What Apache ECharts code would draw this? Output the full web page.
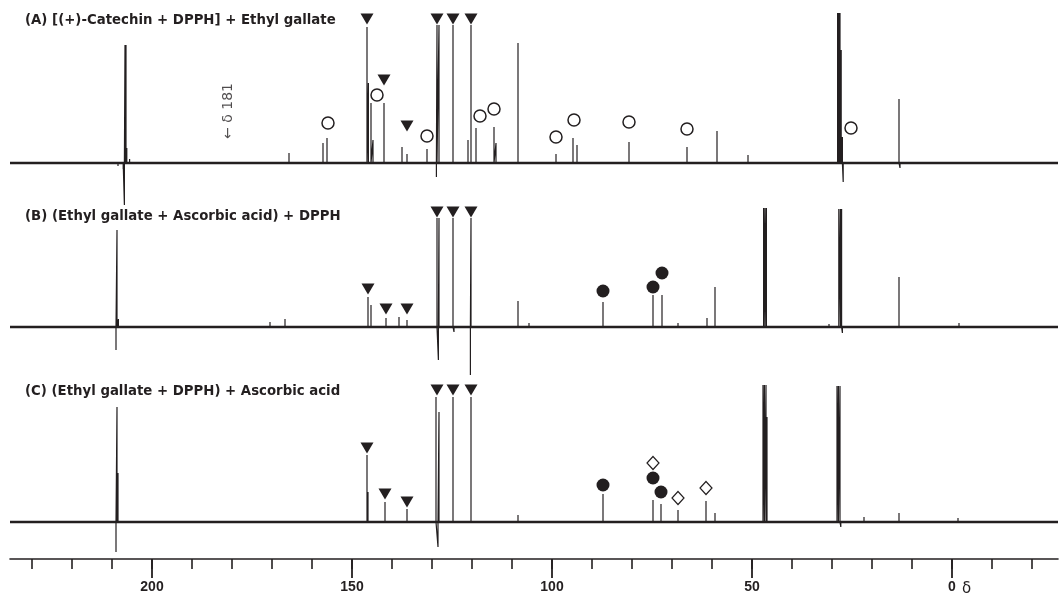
<!DOCTYPE html>
<html>
<head>
<meta charset="utf-8">
<script src="https://cdn.jsdelivr.net/npm/echarts@6/dist/echarts.min.js"></script>
<style>
  html, body { margin: 0; padding: 0; background: #fff; }
  #main { width: 1060px; height: 594px; }
</style>
</head>
<body>
<div id="main"></div>
<script>
// 13C NMR spectra, peaks as [ppm, intensity]; intensity
const peaksA = [
  [208.5, -3], [207.2, -6], [206.9, -42], [206.75, 118], [206.5, 118], [206.3, 15], [205.6, 4],
  [165.75, 10], [157.25, 20], [156.25, 25],
  [146.25, 136], [145.9, 80], [145.25, 60], [144.75, 23],
  [142, 60], [137.5, 16], [136.25, 9], [131.25, 14],
  [128.9, -14], [128.75, 138], [128.25, 138], [124.75, 138],
  [121, 23], [120.25, 138], [119, 35], [114.5, 36], [114, 20],
  [108.5, 120], [99, 9], [94.75, 25], [93.75, 18], [80.75, 21],
  [66.25, 16], [58.75, 32], [51, 8],
  [28.6, 150], [28.3, 150], [28.0, 150], [27.7, 113], [27.4, 26], [27.2, -19],
  [13.25, 64], [13.0, -5]
]
const peaksB = [
  [209.0, -23], [208.75, 97], [208.4, 8],
  [170.5, 5], [166.75, 8],
  [146, 30], [145.25, 22], [141.5, 9], [138.25, 10], [136.25, 7],
  [128.75, 109], [128.4, -33], [128.25, 109], [124.75, 109], [124.5, -5],
  [120.4, -48], [120.25, 109], [108.5, 26], [105.75, 4],
  [87.25, 25], [74.75, 32], [72.5, 32], [68.5, 4], [61.25, 9], [59.25, 40],
  [47.1, 119], [46.75, 119], [46.4, 119], [30.75, 3],
  [28.3, 118], [27.9, 118], [27.6, 118], [27.4, -6],
  [13.25, 50], [-1.75, 4]
]
const peaksC = [
  [209.0, -30], [208.75, 115], [208.5, 49],
  [146.25, 67], [146, 30], [141.75, 20], [136.25, 13],
  [129, 125], [128.5, -25], [128.25, 110], [124.75, 125], [120.25, 125],
  [108.5, 7], [87.25, 28], [74.75, 22], [72.75, 18], [68.5, 12],
  [61.5, 21], [59.25, 9],
  [47.25, 137], [46.9, 137], [46.5, 137], [46.25, 105],
  [28.75, 136], [28.4, 136], [28, 136], [27.8, -5],
  [22, 5], [13.25, 9], [-1.5, 4]
]

// assignment markers [ppm, level]
const triA = [[146.25, 144], [128.75, 144], [124.75, 144], [120.25, 144], [142, 83], [136.25, 37]]
const openCircA = [[156, 40], [143.75, 68], [131.25, 27], [118, 47], [114.5, 54], [99, 26], [94.5, 43], [80.75, 41], [66.25, 34], [25.25, 35]]
const triB = [[146, 38], [141.5, 18], [136.25, 18], [128.75, 115], [124.75, 115], [120.25, 115]]
const dotB = [[87.25, 36], [74.75, 40], [72.5, 54]]
const triC = [[146.25, 74], [141.75, 28], [136.25, 20], [128.75, 132], [124.75, 132], [120.25, 132]]
const dotC = [[87.25, 37], [74.75, 44], [72.75, 30]]
const diamC = [[74.75, 59], [68.5, 24], [61.5, 34]]

const titles = [
  '(A) [(+)-Catechin + DPPH] + Ethyl gallate',
  '(B) (Ethyl gallate + Ascorbic acid) + DPPH',
  '(C) (Ethyl gallate + DPPH) + Ascorbic acid'
]
const majorTicks = [200, 150, 100, 50, 0]
const minorTicks = [230, 220, 210, 200, 190, 180, 170, 160, 150, 140, 130, 120, 110, 100, 90, 80, 70, 60, 50, 40, 30, 20, 10, 0, -10, -20]

const X_MIN = -26.5
const X_MAX = 235.5
const INK = '#231f20'
// baseline of each trace in y units (bottom of plot = 0)
const offA = 396
const offB = 232
const offC = 37

const chart = echarts.init(document.getElementById('main'))

function spectrum(peaks, off) {
  const sorted = peaks.slice().sort((a, b) => b[0] - a[0])
  const pts = [[X_MAX, off]]
  sorted.forEach(([p, h]) => {
    pts.push([p, off], [p, off + h], [p, off])
  })
  pts.push([X_MIN, off])
  return {
    type: 'line', data: pts, symbol: 'none', silent: true, animation: false,
    lineStyle: { color: INK, width: 1.2 },
  }
}

function baseline(off) {
  return {
    type: 'line', data: [[X_MAX, off], [X_MIN, off]], symbol: 'none', silent: true, animation: false,
    lineStyle: { color: INK, width: 2.6 },
  }
}

function marks(list, off, opts) {
  return Object.assign({
    type: 'scatter', silent: true, animation: false, z: 5,
    data: list.map(([p, v]) => [p, off + v]),
  }, opts)
}

const triStyle = { symbol: 'triangle', symbolRotate: 180, symbolSize: [13, 11], itemStyle: { color: INK, opacity: 1 } }
const openCirc = { symbol: 'circle', symbolSize: 12, itemStyle: { color: '#fff', borderColor: INK, borderWidth: 1.5, opacity: 1 } }
const dotStyle = { symbol: 'circle', symbolSize: 13, itemStyle: { color: INK, opacity: 1 } }
const diamStyle = { symbol: 'diamond', symbolSize: [12, 13], itemStyle: { color: '#fff', borderColor: INK, borderWidth: 1.2, opacity: 1 } }

const titleFont = 'bold 13.3px "DejaVu Sans"'

const option = {
  backgroundColor: '#fff',
  animation: false,
  grid: { left: 10, right: 2, top: 0, bottom: 35 },
  xAxis: [
    {
      type: 'value', inverse: true, min: X_MIN, max: X_MAX, position: 'bottom',
      axisLine: { show: true, lineStyle: { color: INK, width: 1.6 } },
      axisTick: { show: true, length: 19, customValues: majorTicks, lineStyle: { color: INK, width: 1.8 } },
      axisLabel: {
        show: true, customValues: majorTicks, margin: 21,
        color: INK, fontFamily: 'Liberation Sans', fontWeight: 'bold', fontSize: 14,
      },
      splitLine: { show: false },
    },
    {
      type: 'value', inverse: true, min: X_MIN, max: X_MAX, position: 'bottom',
      axisLine: { show: false },
      axisTick: { show: true, length: 10, customValues: minorTicks, lineStyle: { color: INK, width: 1.6 } },
      axisLabel: { show: false },
      splitLine: { show: false },
    },
  ],
  yAxis: { type: 'value', min: 0, max: 559, show: false },
  graphic: [
    { type: 'text', left: 25, top: 14, style: { text: titles[0], fill: INK, font: titleFont } },
    { type: 'text', left: 25, top: 210, style: { text: titles[1], fill: INK, font: titleFont } },
    { type: 'text', left: 25, top: 385, style: { text: titles[2], fill: INK, font: titleFont } },
    { type: 'text', left: 962, top: 582, style: { text: 'δ', fill: INK, font: '15px "DejaVu Sans"' } },
  ],
  series: [
    spectrum(peaksA, offA), baseline(offA),
    spectrum(peaksB, offB), baseline(offB),
    spectrum(peaksC, offC), baseline(offC),
    marks(triA, offA, triStyle),
    marks(openCircA, offA, openCirc),
    marks(triB, offB, triStyle),
    marks(dotB, offB, dotStyle),
    marks(triC, offC, triStyle),
    marks(dotC, offC, dotStyle),
    marks(diamC, offC, diamStyle),
    {
      // "← δ 181" annotation, rotated
      type: 'scatter', silent: true, animation: false, symbolSize: 0,
      data: [[181, offA + 52]],
      label: {
        show: true, position: 'inside', rotate: 90, formatter: '← δ 181',
        color: INK, fontFamily: 'DejaVu Sans', fontSize: 14,
      },
    },
  ],
}

chart.setOption(option)
</script>
</body>
</html>
